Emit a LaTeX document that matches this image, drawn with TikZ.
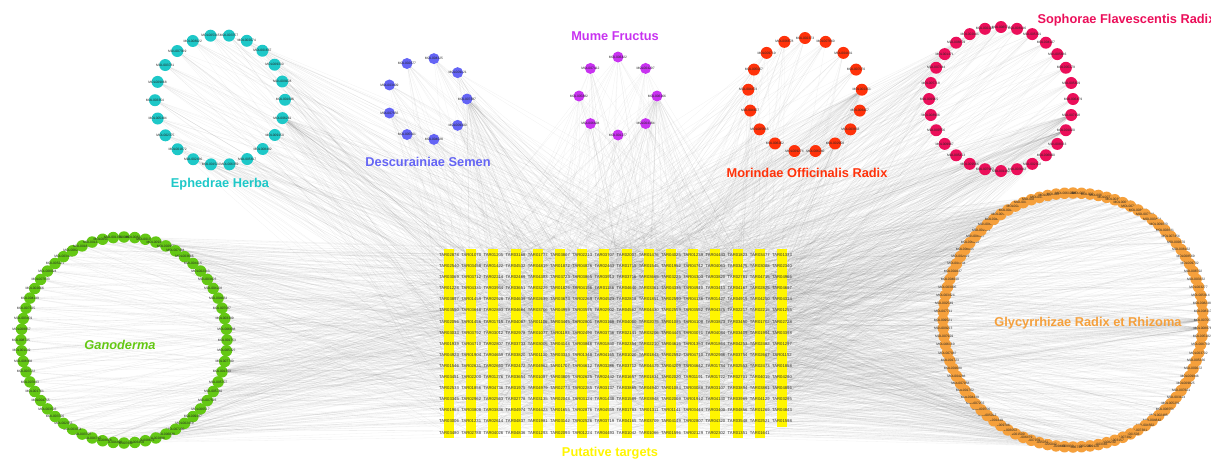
\documentclass[tikz,border=0pt]{standalone}
\usepackage{fontspec}
\setmainfont{Liberation Sans}
\usetikzlibrary{backgrounds}

\definecolor{ephc}{RGB}{30,200,200}
\definecolor{desc}{RGB}{100,100,245}
\definecolor{mumc}{RGB}{200,50,240}
\definecolor{morc}{RGB}{255,50,10}
\definecolor{sopc}{RGB}{235,15,90}
\definecolor{ganc}{RGB}{100,200,20}
\definecolor{glyc}{RGB}{245,160,60}
\definecolor{tarc}{RGB}{255,245,0}

\tikzset{
  mol/.style={circle, fill=#1, inner sep=0pt, minimum size=11pt},
  mollab/.style={font=\fontsize{3.3}{3.5}\selectfont, text=black!85, inner sep=0pt},
  tar/.style={fill=tarc, inner sep=0pt, minimum width=10pt, minimum height=11.2pt},
  tarlab/.style={font=\fontsize{4.2}{4.5}\selectfont, text=black!80, inner sep=0pt},
  herb/.style={text=#1, font=\fontsize{12.8}{13}\selectfont\bfseries},
  edge/.style={black!60, line width=0.3pt, opacity=0.09}
}

\begin{document}
\begin{tikzpicture}[x=1pt,y=-1pt]
\useasboundingbox (0,0) rectangle (1211,459);
\pgfmathsetseed{2718}

% target grid: 16 columns, the last one a row short
\foreach \c in {1,...,16} {
  \pgfmathtruncatemacro\nr{\c==16 ? 16 : 17}
  \foreach \r in {1,...,\nr} {
    \pgfmathrandominteger{\tid}{1000}{4999}
    \node[tar, label={[tarlab]center:TAR0\tid}] (tar-\c-\r) at ({449+22.2*(\c-1)}, {255+11.1*(\r-1)}) {};
  }
}

% one ring of compounds per herb
\foreach \nm/\cx/\cy/\rx/\ry/\n/\a/\col/\sz in {
    eph/220/100/65/65/22/-82/ephc/12,
    des/427/99/40/41/9/-80/desc/11,
    mum/618/96/39/39/8/-90/mumc/11,
    mor/805/95/57/57/17/-90/morc/12,
    sop/1001/99/72/72/28/-90/sopc/12,
    gan/124/340/103/103/60/-90/ganc/11.5,
    gly/1073/320/130/127/96/-90/glyc/11.5} {
  \foreach \i in {1,...,\n} {
    \pgfmathsetmacro\ang{\a+360/\n*(\i-1)}
    \pgfmathrandominteger{\molid}{1000}{9999}
    \node[mol=\col, minimum size=\sz pt, label={[mollab]center:MOL00\molid}] (\nm-\i)
      at ({\cx+\rx*cos(\ang)}, {\cy+\ry*sin(\ang)}) {};
  }
}

% compound-target links
\begin{scope}[on background layer]
\foreach \nm/\n/\k in {eph/22/10, des/9/14, mum/8/14, mor/17/10, sop/28/10, gan/60/8, gly/96/10} {
  \foreach \i in {1,...,\n} {
    \foreach \j in {1,...,\k} {
      \pgfmathrandominteger{\tk}{0}{270}
      \pgfmathtruncatemacro\cc{int(\tk/17)+1}
      \pgfmathtruncatemacro\rr{mod(\tk,17)+1}
      \draw[edge] (\nm-\i) -- (tar-\cc-\rr);
    }
  }
}
% a few compounds hit many targets
\foreach \hub in {eph-7, des-3, mum-3, mor-5, sop-9, sop-10, gan-19, gly-25, gly-26} {
  \foreach \j in {1,...,40} {
    \pgfmathrandominteger{\tk}{0}{270}
    \pgfmathtruncatemacro\cc{int(\tk/17)+1}
    \pgfmathtruncatemacro\rr{mod(\tk,17)+1}
    \draw[edge] (\hub) -- (tar-\cc-\rr);
  }
}
\end{scope}

\node[herb=ephc] (eph-name) at (220,184) {Ephedrae Herba};
\node[herb=desc] (des-name) at (428,162) {Descurainiae Semen};
\node[herb=mumc] (mum-name) at (615,36) {Mume Fructus};
\node[herb=morc] (mor-name) at (807,173) {Morindae Officinalis Radix};
\node[herb=sopc, anchor=west] (sop-name) at (1034,20) {Sophorae Flavescentis Radix};
\node[herb=ganc, font=\fontsize{12.8}{13}\selectfont\bfseries\itshape] (gan-name) at (120,345) {Ganoderma};
\node[herb=glyc] (gly-name) at (1088,323) {Glycyrrhizae Radix et Rhizoma};
\node[herb=tarc] (tar-name) at (610,453) {Putative targets};
\end{tikzpicture}
\end{document}
